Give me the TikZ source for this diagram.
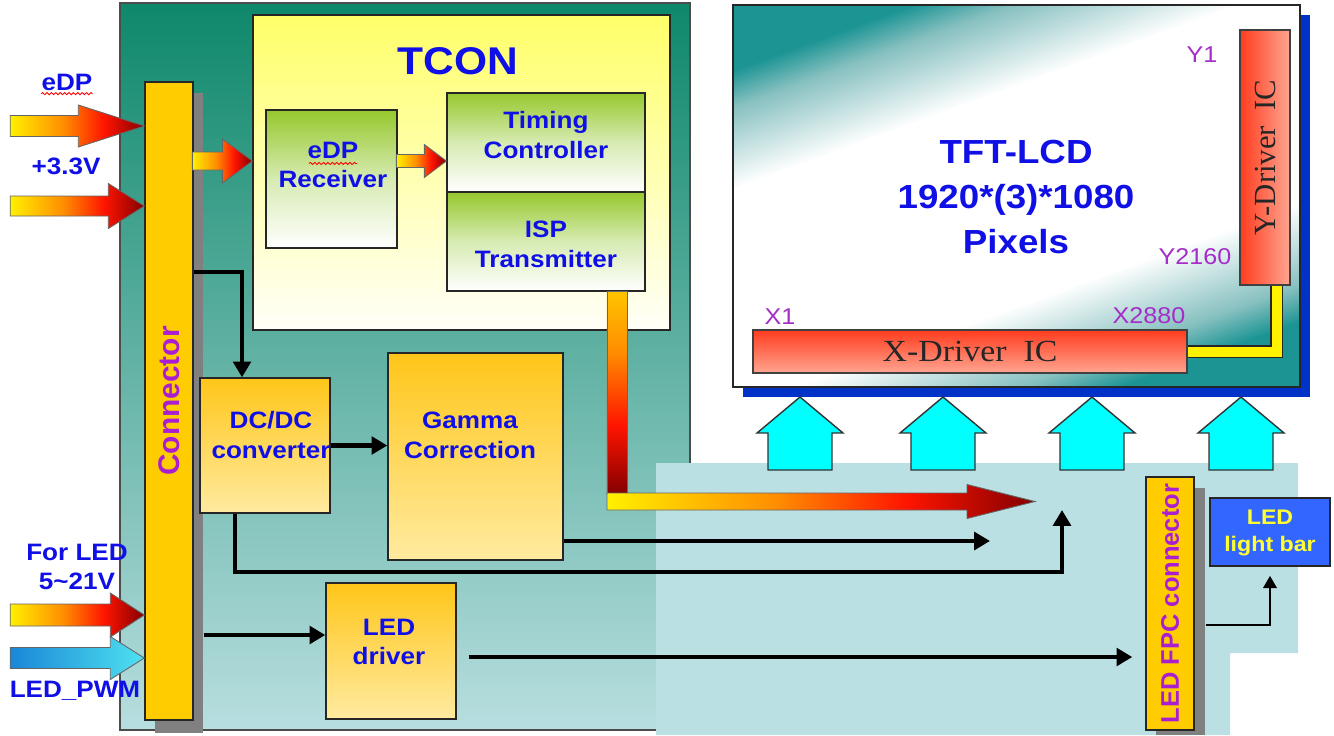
\documentclass[tikz,border=0pt]{standalone}
\usepackage{fontspec}
\setmainfont{Liberation Sans}[FakeStretch=1.1]
\newfontfamily\sansnarrow{Liberation Sans}
\newfontfamily\serifwide{Liberation Serif}[FakeStretch=1.1]
\newfontfamily\serifnarrow{Liberation Serif}
\usepackage{tikz}
\usetikzlibrary{arrows.meta,positioning,calc,decorations.pathmorphing}
\definecolor{labelblue}{RGB}{15,15,230}
\definecolor{pinlabel}{RGB}{165,45,200}
\definecolor{connpurple}{RGB}{170,30,210}
\definecolor{pcbtop}{RGB}{14,136,106}
\definecolor{pcbbottom}{RGB}{184,222,224}
\definecolor{flexblue}{RGB}{186,224,227}
\definecolor{connyellow}{RGB}{255,204,0}
\definecolor{tconTop}{RGB}{255,255,105}
\definecolor{tconLow}{RGB}{255,255,248}
\definecolor{greenTop}{RGB}{150,200,45}
\definecolor{greenMid}{RGB}{215,235,178}
\definecolor{orangeTop}{RGB}{255,198,25}
\definecolor{orangeLow}{RGB}{255,234,160}
\definecolor{hotY}{RGB}{255,240,0}
\definecolor{hotA}{RGB}{255,196,0}
\definecolor{hotO}{RGB}{255,140,0}
\definecolor{hotR}{RGB}{255,20,0}
\definecolor{hotD}{RGB}{130,0,0}
\definecolor{coldL}{RGB}{25,135,215}
\definecolor{coldR}{RGB}{80,225,240}
\definecolor{upCyan}{RGB}{0,255,255}
\definecolor{panTeal}{RGB}{28,148,148}
\definecolor{panMid}{RGB}{135,192,192}
\definecolor{panShadow}{RGB}{0,50,200}
\definecolor{drvRedTop}{RGB}{255,60,30}
\definecolor{drvRedLow}{RGB}{255,165,145}
\definecolor{barblue}{RGB}{51,102,255}
\definecolor{baryellow}{RGB}{255,255,50}

\pgfdeclarehorizontalshading{hotarrow}{100bp}{color(0bp)=(hotY); color(25bp)=(hotY); color(45bp)=(hotO); color(60bp)=(hotR); color(75bp)=(hotD); color(100bp)=(hotD)}
\pgfdeclarehorizontalshading{coldarrow}{100bp}{color(0bp)=(coldL); color(25bp)=(coldL); color(75bp)=(coldR); color(100bp)=(coldR)}
\pgfdeclareverticalshading{hotbar}{100bp}{color(0bp)=(hotD); color(25bp)=(hotD); color(42bp)=(hotR); color(60bp)=(hotO); color(75bp)=(hotA); color(100bp)=(hotA)}
\pgfdeclareverticalshading{panelglow}{100bp}{color(0bp)=(panTeal); color(25bp)=(panTeal); color(29bp)=(panMid); color(38bp)=(white); color(62bp)=(white); color(71bp)=(panMid); color(75bp)=(panTeal); color(100bp)=(panTeal)}

% block arrows: style, tip, length, head length, half body, half head
\newcommand{\fatright}[6]{\path[#1] (#2) -- ++(-#4,-#6) -- ++(0,#6-#5) -- ++(-#3+#4,0) -- ++(0,2*#5) -- ++(#3-#4,0) -- ++(0,#6-#5) -- cycle;}
\newcommand{\fatup}[6]{\path[#1] (#2) -- ++(-#6,#4) -- ++(#6-#5,0) -- ++(0,#3-#4) -- ++(2*#5,0) -- ++(0,-#3+#4) -- ++(#6-#5,0) -- cycle;}

\tikzset{
    line/.style     = {-{Triangle[length=9pt,width=10pt]}, line width=2.5pt, draw=black},
    thinline/.style = {-{Triangle[length=7pt,width=7.5pt]}, line width=1.6pt, draw=black},
    block/.style    = {draw=black!85, line width=0.8pt, inner sep=0pt},
    greenblock/.style  = {block, top color=greenTop, bottom color=white, middle color=greenMid},
    orangeblock/.style = {block, top color=orangeTop, bottom color=orangeLow},
    driverblock/.style = {block, draw=black!75},
    txt/.style      = {text=labelblue, font=\fontsize{13.5}{17}\selectfont\bfseries,
            align=center, inner sep=0pt},
    pinlbl/.style   = {text=pinlabel, font=\fontsize{13}{15}\selectfont, inner sep=0pt},
    fatH/.style     = {shading=hotarrow, shade, draw=black!60, line width=0.5pt},
    fatC/.style     = {shading=coldarrow, shade, draw=black!60, line width=0.5pt},
    upcyan/.style   = {fill=upCyan, draw=black!80, line width=0.8pt},
    squig/.style    = {draw=red, line width=0.5pt, decorate,
            decoration={snake, amplitude=0.6pt, segment length=2.5pt}},
}

\begin{document}
\begin{tikzpicture}[x=0.02cm, y=-0.02cm]
    \path[use as bounding box, fill=white] (0,0) rectangle (1334,735);
    % Board
    \node[block, draw=black!70, top color=pcbtop, bottom color=pcbbottom,
        minimum width=11.4cm, minimum height=14.54cm] (pcb) at (405,366.5) {};
    \fill[flexblue] (656,463) -- (1298,463) -- (1298,653) -- (1230,653) -- (1230,735) -- (656,735) -- cycle;
    % Connectors
    \fill[gray] (155,93) rectangle (203,733);
    \node[block, fill=connyellow, minimum width=0.96cm, minimum height=12.76cm] (conn) at (169,401) {};
    \node[rotate=90, text=connpurple, font=\sansnarrow\fontsize{17}{17}\selectfont\bfseries] (connTxt) at (conn) {Connector};
    \fill[gray] (1156,488) rectangle (1205,735);
    \node[block, fill=connyellow, minimum width=0.96cm, minimum height=5.06cm] (fpc) at (1170,603.5) {};
    \node[rotate=90, text=connpurple, font=\sansnarrow\fontsize{14.5}{14.5}\selectfont\bfseries] (fpcTxt) at (fpc) {LED FPC connector};
    % TCON
    \node[block, top color=tconTop, bottom color=tconLow, minimum width=8.34cm, minimum height=6.3cm] (tcon) at (461.5,172.5) {};
    \node[text=labelblue, font=\fontsize{22}{22}\selectfont\bfseries] (tconTxt) at (458,61) {TCON};
    \node[greenblock, minimum width=2.62cm, minimum height=2.76cm] (rcv) at (331.5,179) {};
    \node[txt] (rcvTxt) at (333,165) {eDP\\Receiver};
    \node[greenblock, minimum width=3.96cm, minimum height=1.98cm] (timing) at (546,142.5) {};
    \node[txt] (timingTxt) at (546,135) {Timing\\Controller};
    \node[greenblock, minimum width=3.96cm, minimum height=1.98cm] (isp) at (546,241.5) {};
    \node[txt] (ispTxt) at (546,244) {ISP\\Transmitter};
    % Power and LED blocks
    \node[orangeblock, minimum width=2.6cm, minimum height=2.7cm] (dcdc) at (265,445.5) {};
    \node[txt] (dcdcTxt) at (271,435) {DC/DC\\converter};
    \node[orangeblock, minimum width=3.5cm, minimum height=4.14cm] (gamma) at (475.5,456.5) {};
    \node[txt] (gammaTxt) at (470,435) {Gamma\\Correction};
    \node[orangeblock, minimum width=2.6cm, minimum height=2.72cm] (ledDrv) at (391,651) {};
    \node[txt] (ledDrvTxt) at (389,642) {LED\\driver};
    % Panel
    \fill[panShadow] (743,15) rectangle (1310,397);
    \node[block, shading=panelglow, shading angle=20, minimum width=11.34cm, minimum height=7.64cm] (pnl) at (1016.5,196) {};
    \node[text=labelblue, font=\fontsize{19}{25.5}\selectfont\bfseries, align=center] (pnlTxt) at (1016,197) {TFT-LCD\\1920*(3)*1080\\Pixels};
    \node[driverblock, top color=drvRedTop, bottom color=drvRedLow, minimum width=8.68cm, minimum height=0.86cm] (xdrv) at (970,351.5) {};
    \node[font=\serifwide\fontsize{17.5}{17.5}\selectfont, text=black!85] (xdrvTxt) at (xdrv) {X-Driver\ \ IC};
    \node[driverblock, left color=drvRedTop, right color=drvRedLow, minimum width=1cm, minimum height=5.1cm] (ydrv) at (1265,157.5) {};
    \node[rotate=90, font=\serifnarrow\fontsize{17.5}{17.5}\selectfont, text=black!85] (ydrvTxt) at (ydrv) {Y-Driver\ \ IC};
    \draw[line width=0.6pt, draw=black!85, double=yellow, double distance=0.2cm] (xdrv.east) -| ([xshift=0.23cm]ydrv.south);
    \node[pinlbl] (pinY1) at (1202,55) {Y1};
    \node[pinlbl] (pinY2) at (1195,257) {Y2160};
    \node[pinlbl] (pinX1) at (780,317) {X1};
    \node[pinlbl] (pinX2) at (1149,316) {X2880};
    % Light bar
    \node[block, fill=barblue, minimum width=2.4cm, minimum height=1.36cm] (bar) at (1270,532) {};
    \node[text=baryellow, font=\fontsize{12}{15}\selectfont\bfseries, align=center, inner sep=0pt] (barTxt) at (1270,533) {LED\\light bar};
    % Block arrows
    \coordinate (tipEdp) at (conn.west |- 0,126);
    \coordinate (tipPwr) at (conn.west |- 0,206);
    \coordinate (tipLed) at (conn.west |- 0,615);
    \coordinate (tipPwm) at (conn.west |- 0,658);
    \coordinate (tipRx) at (tcon.west |- 0,161);
    \coordinate (tipTc) at (timing.west |- 0,161);
    \coordinate (ispOut) at ([xshift=1.22cm]isp.south);
    \coordinate (tipIsp) at (1035,501.5);
    \fatright{fatH}{tipEdp}{134}{66}{10.5}{21}
    \fatright{fatH}{tipPwr}{134}{36}{10}{22.5}
    \fatright{fatH}{tipLed}{134}{34}{11}{22}
    \fatright{fatC}{tipPwm}{134}{34}{10.5}{21.5}
    \fatright{fatH}{tipRx}{60}{30}{9}{22}
    \fatright{fatH}{tipTc}{50}{22}{6.5}{16.5}
    \path[shading=hotbar, shade, draw=black!60, line width=0.5pt] (ispOut) rectangle ++(20,203);
    \fatright{fatH}{tipIsp}{428}{68}{8.5}{17}
    \foreach \x [count=\i] in {800,943,1092,1241}{
        \coordinate (up\i) at (\x,397);
        \fatup{upcyan}{up\i}{73}{36}{32}{43}
    }
    % Arrows
    \coordinate (gammaOut) at (990,541);
    \coordinate (dcTurn) at (1062,572);
    \coordinate (dcOut) at (1062,510);
    \draw[line] (conn.east |- 0,272) -| ([xshift=-0.46cm]dcdc.north);
    \draw[line] (dcdc.east) -- (gamma.west |- dcdc.east);
    \draw[line] (gamma.east |- gammaOut) -- (gammaOut);
    \draw[line] ([xshift=-0.6cm]dcdc.south) |- (dcTurn) -- (dcOut);
    \draw[line, shorten <=0.2cm] (conn.east |- 0,635) -- (ledDrv.west |- 0,635);
    \draw[line, shorten <=0.24cm, shorten >=0.26cm] (ledDrv.east |- 0,657) -- (fpc.west |- 0,657);
    \draw[thinline, shorten <=0.22cm, shorten >=0.18cm] (fpc.east |- 0,625) -| (bar.south);
    % Input labels
    \node[txt] (edpTxt) at (67,82) {eDP};
    \node[txt] (pwrTxt) at (66,166) {+3.3V};
    \node[txt] (ledTxt) at (77,567) {For LED\\5\textasciitilde 21V};
    \node[txt] (pwmTxt) at (75,691) {LED\_PWM};
    \draw[squig] ($(edpTxt.south west)+(0,3)$) -- ($(edpTxt.south east)+(0,3)$);
    \draw[squig] ($(rcvTxt.north)+(-24,22)$) -- ++(48,0);
\end{tikzpicture}
\end{document}
